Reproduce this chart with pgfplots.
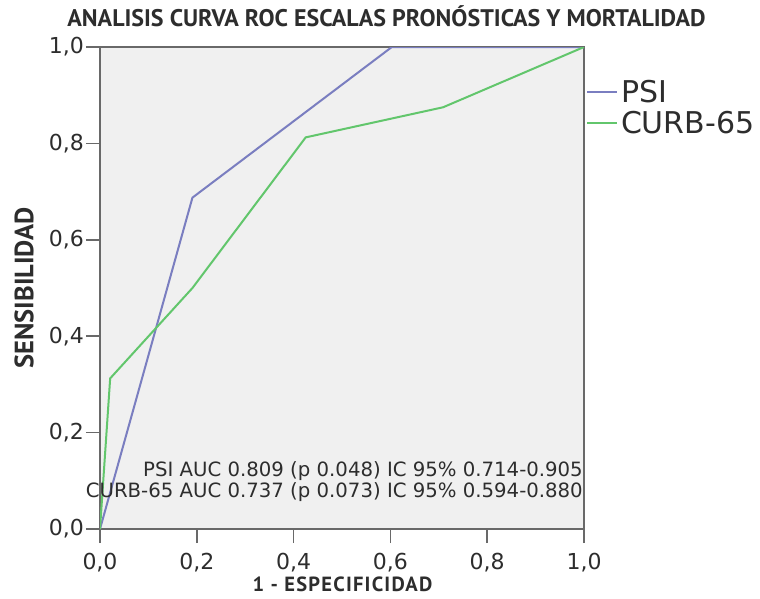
\documentclass[border=0pt]{standalone}
\usepackage{fontspec}
\setmainfont{DejaVu Sans}
\newfontfamily\titlefont{PT Sans}
\newfontfamily\xlabfont{PT Sans}[LetterSpace=6]
\usepackage{pgfplots}
\pgfplotsset{compat=1.18}
\definecolor{psiblue}{RGB}{122,126,192}
\definecolor{curbgreen}{RGB}{98,198,108}
\definecolor{axgray}{RGB}{105,105,105}
\definecolor{bggray}{RGB}{240,240,240}
\definecolor{txtgray}{RGB}{45,45,45}
\begin{document}
\begin{tikzpicture}
\useasboundingbox (0pt,0pt) rectangle (760pt,-598pt);
\begin{axis}[
  at={(100pt,-529pt)}, anchor=south west,
  scale only axis, width=484pt, height=482pt,
  xmin=0, xmax=1, ymin=0, ymax=1,
  clip mode=individual,
  axis background/.style={fill=bggray},
  axis line style={axgray, line width=2pt},
  every tick/.style={axgray, line width=1.6pt},
  tick align=outside, major tick length=14pt,
  tick pos=left,
  xtick={0,0.2,0.4,0.6,0.8,1}, ytick={0,0.2,0.4,0.6,0.8,1},
  /pgf/number format/fixed, /pgf/number format/fixed zerofill,
  /pgf/number format/precision=1, /pgf/number format/use comma,
  /pgf/number format/assume math mode=true,
  ticklabel style={font=\fontsize{22}{26}\selectfont, text=txtgray},
  yticklabel style={inner sep=2pt},
  xticklabel style={yshift=-7pt},
  title={ANALISIS CURVA ROC ESCALAS PRONÓSTICAS Y MORTALIDAD},
  title style={at={(rel axis cs:0.592,1.0311)}, anchor=base, inner sep=0pt,
    font=\titlefont\bfseries\fontsize{24}{27}\selectfont, text=txtgray},
  xlabel={1 - ESPECIFICIDAD},
  every axis x label/.style={at={(rel axis cs:0.501,-0.1297)}, anchor=base, inner sep=0pt,
    font=\xlabfont\bfseries\fontsize{20.5}{23}\selectfont, text=txtgray},
  ylabel={SENSIBILIDAD},
  every axis y label/.style={at={(rel axis cs:-0.157,0.5)}, rotate=90, anchor=center, inner sep=0pt,
    font=\titlefont\bfseries\fontsize{26.5}{29}\selectfont, text=txtgray},
  legend style={at={(rel axis cs:1,0.935)}, anchor=north west, xshift=2pt,
    draw=none, fill=none, inner sep=0pt, outer sep=0pt,
    font=\fontsize{30}{33}\selectfont, text=txtgray,
    nodes={inner sep=2pt}, column sep=1pt, row sep=3pt},
  legend cell align=left,
  legend image code/.code={\draw[#1] (0pt,0pt) -- (30pt,0pt);},
]
\addplot[psiblue, line width=2pt] coordinates {(0,0) (0.191,0.6875) (0.603,1) (1,1)};
\addlegendentry{PSI}
\addplot[curbgreen, line width=2pt] coordinates {(0,0) (0.021,0.3125) (0.191,0.5) (0.425,0.8125) (0.709,0.875) (1,1)};
\addlegendentry{CURB-65}
\node[anchor=base east, inner sep=0pt, font=\fontsize{19.7}{22}\selectfont, text=txtgray]
  at (rel axis cs:0.998,0.108) {PSI AUC 0.809 (p 0.048) IC 95\% 0.714-0.905};
\node[anchor=base east, inner sep=0pt, font=\fontsize{19.7}{22}\selectfont, text=txtgray]
  at (rel axis cs:0.998,0.066) {CURB-65 AUC 0.737 (p 0.073) IC 95\% 0.594-0.880};
\end{axis}
\end{tikzpicture}
\end{document}
